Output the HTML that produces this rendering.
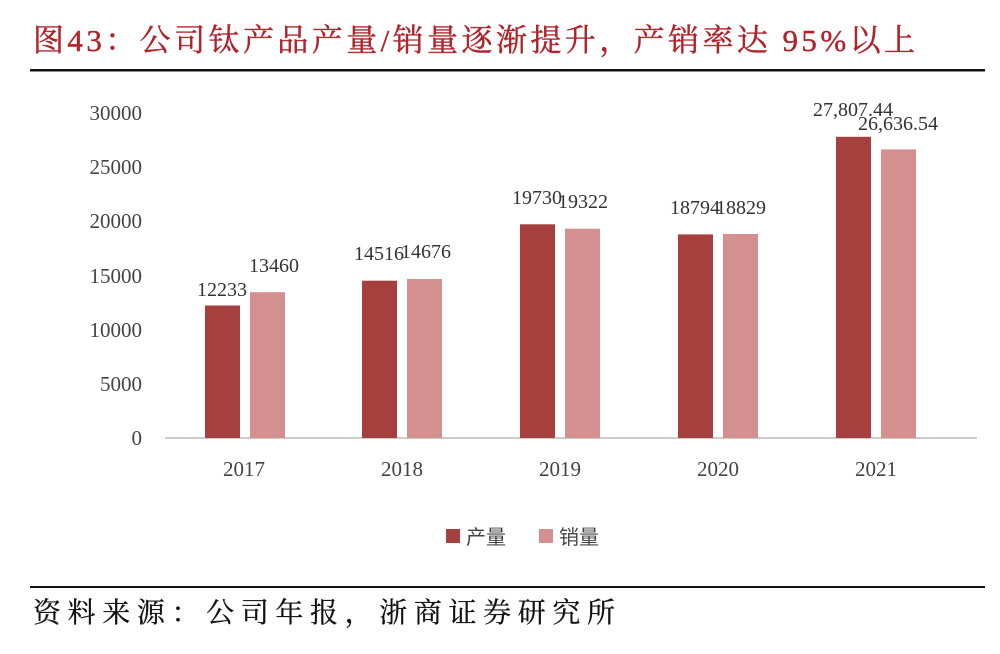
<!DOCTYPE html><html><head><meta charset="utf-8"><style>body{margin:0;background:#fff}</style></head><body>
<svg width="1000" height="654" xmlns="http://www.w3.org/2000/svg" style="display:block">
<text x="33" y="51" font-family="'Liberation Serif','Noto Serif CJK SC',serif" font-size="31" fill="#b0232a" stroke="#b0232a" stroke-width="0.4" textLength="882">图43：公司钛产品产量/销量逐渐提升，产销率达 95%以上</text>
<rect x="30" y="69" width="955" height="2.5" fill="#111"/>
<g font-family="'Liberation Serif',serif" font-size="21" fill="#444" text-anchor="end">
<text x="142" y="445">0</text><text x="142" y="391">5000</text><text x="142" y="337">10000</text><text x="142" y="283">15000</text><text x="142" y="228">20000</text><text x="142" y="174">25000</text><text x="142" y="120">30000</text>
</g>
<line x1="165" y1="438" x2="977" y2="438" stroke="#bbb" stroke-width="1.5"/>
<g fill="#a5403f">
<rect x="205" y="305.5" width="35" height="132.5"/><rect x="362" y="280.7" width="35" height="157.3"/><rect x="520" y="224.3" width="35" height="213.7"/><rect x="678" y="234.4" width="35" height="203.6"/><rect x="836" y="136.8" width="35" height="301.2"/>
</g>
<g fill="#d4908e">
<rect x="250" y="292.2" width="35" height="145.8"/><rect x="407" y="279" width="35" height="159"/><rect x="565" y="228.7" width="35" height="209.3"/><rect x="723" y="234" width="35" height="204"/><rect x="881" y="149.4" width="35" height="288.6"/>
</g>
<g font-family="'Liberation Serif',serif" font-size="20" fill="#333" text-anchor="middle">
<text x="222" y="296">12233</text><text x="274" y="272">13460</text>
<text x="379" y="260">14516</text><text x="426" y="258">14676</text>
<text x="537" y="204">19730</text><text x="583" y="208">19322</text>
<text x="695" y="214">18794</text><text x="741" y="214">18829</text>
<text x="853" y="116">27,807.44</text><text x="898" y="130">26,636.54</text>
</g>
<g font-family="'Liberation Serif',serif" font-size="21" fill="#444" text-anchor="middle">
<text x="244" y="476">2017</text><text x="402" y="476">2018</text><text x="560" y="476">2019</text><text x="718" y="476">2020</text><text x="876" y="476">2021</text>
</g>
<rect x="446" y="529" width="14" height="14" fill="#a5403f"/>
<text x="466" y="544" font-family="'Noto Sans CJK SC',sans-serif" font-size="20" fill="#444">产量</text>
<rect x="539" y="529" width="14" height="14" fill="#d4908e"/>
<text x="559" y="544" font-family="'Noto Sans CJK SC',sans-serif" font-size="20" fill="#444">销量</text>
<rect x="30" y="586" width="955" height="2" fill="#111"/>
<text x="33" y="622" font-family="'Noto Serif CJK SC',serif" font-size="28" fill="#111" stroke="#111" stroke-width="0.3" textLength="582">资料来源：公司年报，浙商证券研究所</text>
</svg>
</body></html>
